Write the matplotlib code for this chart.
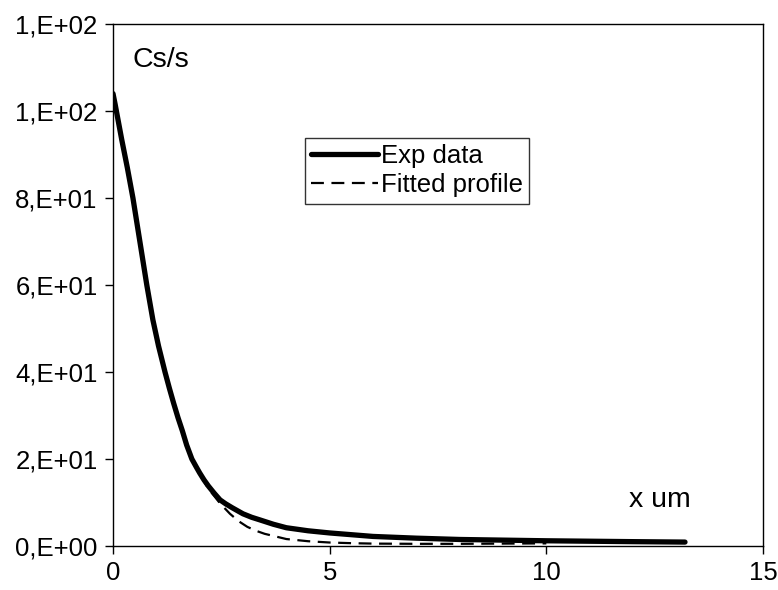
import matplotlib.pyplot as plt

plt.rcParams['font.family'] = ['Liberation Sans', 'DejaVu Sans']

# depth (um) and signal (Cs/s)
x_exp = [0.0, 0.05, 0.2, 0.33, 0.46, 0.62, 0.78, 0.92, 1.05, 1.2, 1.3, 1.4, 1.5, 1.6, 1.7,
         1.82, 1.92, 2.0, 2.1, 2.2, 2.33, 2.47, 2.6, 2.75, 3.0, 3.2, 3.39, 3.7, 4.0, 4.5,
         5.0, 5.5, 6.0, 7.0, 8.0, 9.0, 10.0, 11.0, 12.0, 13.2]
y_exp = [104, 101.5, 93.5, 87, 80, 70, 60, 52, 46, 40, 36.3, 32.8, 29.5, 26.5, 23.2,
         20, 18.2, 16.8, 15.2, 13.8, 12.2, 10.6, 9.7, 8.8, 7.4, 6.6, 6.0, 5.0, 4.2, 3.5,
         3.0, 2.6, 2.2, 1.8, 1.5, 1.35, 1.2, 1.1, 1.0, 0.9]

x_fit = [0.0, 0.05, 0.2, 0.33, 0.46, 0.62, 0.78, 0.92, 1.05, 1.2, 1.4, 1.6, 1.82, 2.0, 2.2,
         2.47, 2.7, 2.9, 3.1, 3.3, 3.5, 4.0, 4.5, 5.0, 5.5, 6.0, 7.0, 8.0, 9.0, 10.0]
y_fit = [103, 101, 93.5, 87, 80, 70, 60, 52, 46, 40, 33, 26.5, 20, 16.5, 13.2,
         9.8, 7.4, 5.7, 4.4, 3.5, 2.8, 1.6, 1.1, 0.8, 0.65, 0.55, 0.5, 0.5, 0.55, 0.6]

yticks = [0, 20, 40, 60, 80, 100, 120]
ytick_labels = ['0,E+00', '2,E+01', '4,E+01', '6,E+01', '8,E+01', '1,E+02', '1,E+02']
xticks = [0, 5, 10, 15]

fig = plt.figure(figsize=(7.78, 5.90), dpi=100)
ax = fig.add_axes([113/778, 44/590, 650/778, 522/590])

ax.plot(x_exp, y_exp, color='black', linewidth=3.8, label='Exp data',
        solid_capstyle='round', solid_joinstyle='round')
ax.plot(x_fit, y_fit, color='black', linewidth=1.6, linestyle=(0, (5.8, 3.4)),
        label='Fitted profile')

ax.set_xlim(0, 15)
ax.set_ylim(0, 120)
ax.set_xticks(xticks)
ax.set_yticks(yticks)
ax.set_yticklabels(ytick_labels)
ax.tick_params(direction='out', length=6, width=1, labelsize=18.5, pad=5)
for s in ax.spines.values():
    s.set_linewidth(1.0)

ax.text(0.44, 111.7, 'Cs/s', fontsize=20.5, va='center', ha='left')
ax.text(11.9, 10.6, 'x um', fontsize=20.5, va='center', ha='left')

leg = ax.legend(loc='upper left', bbox_to_anchor=(0.295, 0.782), borderaxespad=0,
                fontsize=18.5, frameon=True, fancybox=False, handlelength=2.6,
                handletextpad=0.1, borderpad=0.25, labelspacing=0.2)
leg.get_frame().set_edgecolor('black')
leg.get_frame().set_linewidth(1.0)

fig.savefig('out.png', dpi=100)
